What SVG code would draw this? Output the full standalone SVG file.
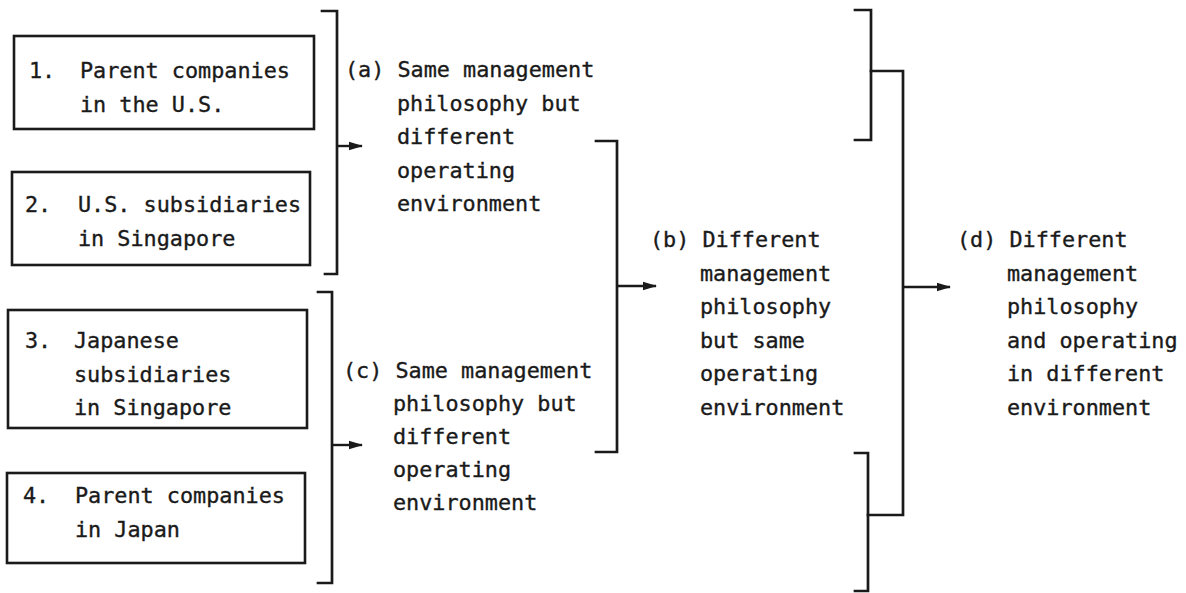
<svg xmlns="http://www.w3.org/2000/svg" width="1186" height="593" viewBox="0 0 1186 593">
  <style>
    .box { fill: none; stroke: #1a1a1a; stroke-width: 2.6; }
    .line { fill: none; stroke: #1a1a1a; stroke-width: 2.7; stroke-linejoin: miter; stroke-linecap: square; }
    .arrow { fill: none; stroke: #1a1a1a; stroke-width: 2.4; marker-end: url(#head); }
    text { font-family: "DejaVu Sans Mono", "Liberation Mono", monospace; font-size: 21.8px; fill: #1a1a1a; stroke: #1a1a1a; stroke-width: 0.35; }
  </style>
  <defs>
    <marker id="head" markerUnits="userSpaceOnUse" markerWidth="14" markerHeight="10" refX="13" refY="5" orient="auto">
      <path d="M0,0.8 L14,5 L0,9.2 z" fill="#1a1a1a"/>
    </marker>
  </defs>
  <rect width="1186" height="593" fill="#ffffff"/>

  <!-- source boxes -->
  <g id="box1">
    <rect class="box" x="14" y="36" width="300" height="93"/>
    <text x="29" y="78">1.</text>
    <text x="80" y="78">Parent companies</text>
    <text x="80" y="111.5">in the U.S.</text>
  </g>
  <g id="box2">
    <rect class="box" x="12" y="172" width="298" height="93"/>
    <text x="25" y="212">2.</text>
    <text x="78" y="212">U.S. subsidiaries</text>
    <text x="78" y="246">in Singapore</text>
  </g>
  <g id="box3">
    <rect class="box" x="8" y="310" width="299" height="118"/>
    <text x="25" y="348">3.</text>
    <text x="74" y="348">Japanese</text>
    <text x="74" y="381.5">subsidiaries</text>
    <text x="74" y="415">in Singapore</text>
  </g>
  <g id="box4">
    <rect class="box" x="7" y="473" width="298" height="90"/>
    <text x="23" y="503">4.</text>
    <text x="75" y="503">Parent companies</text>
    <text x="75" y="537">in Japan</text>
  </g>

  <!-- outcome labels -->
  <g id="node-a">
    <text x="345" y="77">(a) Same management</text>
    <text x="397" y="110.5">philosophy but</text>
    <text x="397" y="144">different</text>
    <text x="397" y="177.5">operating</text>
    <text x="397" y="211">environment</text>
  </g>
  <g id="node-c">
    <text x="343" y="378">(c) Same management</text>
    <text x="393" y="411">philosophy but</text>
    <text x="393" y="444">different</text>
    <text x="393" y="477">operating</text>
    <text x="393" y="510">environment</text>
  </g>
  <g id="node-b">
    <text x="650" y="247">(b) Different</text>
    <text x="700" y="280.5">management</text>
    <text x="700" y="314">philosophy</text>
    <text x="700" y="347.5">but same</text>
    <text x="700" y="381">operating</text>
    <text x="700" y="414.5">environment</text>
  </g>
  <g id="node-d">
    <text x="957" y="247">(d) Different</text>
    <text x="1007" y="280.5">management</text>
    <text x="1007" y="314">philosophy</text>
    <text x="1007" y="347.5">and operating</text>
    <text x="1007" y="381">in different</text>
    <text x="1007" y="414.5">environment</text>
  </g>

  <!-- brackets and arrows -->
  <g id="connectors">
    <path class="line" d="M322,11 H337 V274 H325"/>
    <path class="arrow" d="M337,146 H362"/>

    <path class="line" d="M318,292 H332 V583 H318"/>
    <path class="arrow" d="M332,445 H362"/>

    <path class="line" d="M596,141 H617 V452 H596"/>
    <path class="arrow" d="M617,286 H656"/>

    <path class="line" d="M855,10 H871 V140 H855"/>
    <path class="line" d="M855,453 H868 V591 H855"/>
    <path class="line" d="M871,71 H903 V515 H868"/>
    <path class="arrow" d="M903,287 H950"/>
  </g>
</svg>
